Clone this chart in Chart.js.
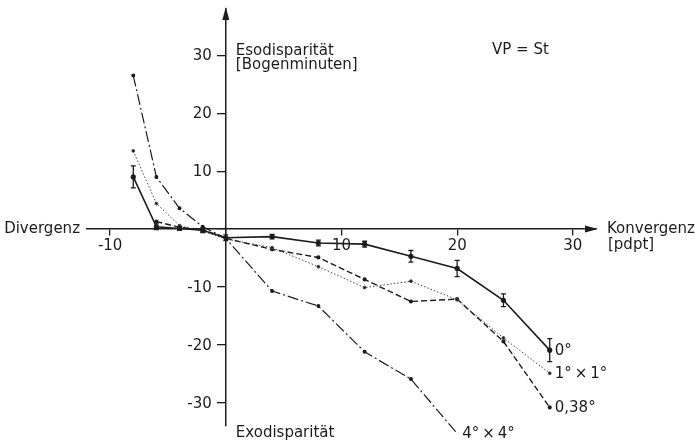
<!DOCTYPE html>
<html>
<head>
<meta charset="utf-8">
<script src="https://cdn.jsdelivr.net/npm/chart.js@4/dist/chart.umd.min.js"></script>
<style>
html, body { margin: 0; padding: 0; background: #fff; }
</style>
</head>
<body>
<canvas id="c" width="695" height="443"></canvas>
<script>
// Konvergenz [pdpt] values where the disparities were measured
const konvergenz = [-8, -6, -4, -2, 0, 4, 8, 12, 16, 20, 24, 28];

// Fixationsdisparität [Bogenminuten] per stimulus size
const sZero       = [9.0, 0.4, 0.1, -0.2, -1.5, -1.3, -2.4, -2.6, -4.7, -6.8, -12.3, -20.9];
const sZeroErr    = [1.9, 0.5, 0.3, 0.4, 0.5, 0.4, 0.5, 0.5, 1.0, 1.4, 1.1, 2.0];
const sOneByOne   = [13.5, 4.4, 0.6, -0.4, -1.7, -3.2, -6.5, -10.1, -9.0, -12.2, -18.8, -24.9];
const sPoint38    = [null, 1.3, 0.3, -0.1, -1.6, -3.5, -4.9, -8.7, -12.5, -12.1, -19.4, -30.8];
const sFourByFour = [26.5, 9.0, 3.6, 0.4, -1.6, -10.7, -13.3, -21.2, -25.9, -35.3, null, null];

const seriesNames = ['0°', '1°\u2009×\u20091°', '0,38°', '4°\u2009×\u20094°'];

const INK = '#1c1c1c';
const FONT = 'DejaVu Sans';
const FSIZE = 15;

const pts = (ys) => konvergenz
    .map((x, i) => ({ x: x, y: ys[i] }))
    .filter(p => p.y !== null);

const line = (label, ys, opts) => Object.assign({
    label: label,
    data: pts(ys),
    borderColor: INK,
    backgroundColor: INK,
    pointRadius: 1.4,
    pointHoverRadius: 0,
    tension: 0,
    clip: false
}, opts);

// error bars, y tick labels, end labels, arrows and axis captions
const extras = {
    id: 'extras',
    afterDatasetsDraw(chart) {
        const { ctx, chartArea, scales: { x, y } } = chart;
        const x0 = x.getPixelForValue(0);
        const y0 = y.getPixelForValue(0);
        ctx.save();
        ctx.strokeStyle = INK;
        ctx.fillStyle = INK;

        // Fehlerbalken der 0°-Kurve
        ctx.lineWidth = 1.3;
        konvergenz.forEach((k, i) => {
            const px = x.getPixelForValue(k);
            const top = y.getPixelForValue(sZero[i] + sZeroErr[i]);
            const bot = y.getPixelForValue(sZero[i] - sZeroErr[i]);
            ctx.beginPath();
            ctx.moveTo(px, top); ctx.lineTo(px, bot);
            ctx.moveTo(px - 2.5, top); ctx.lineTo(px + 2.5, top);
            ctx.moveTo(px - 2.5, bot); ctx.lineTo(px + 2.5, bot);
            ctx.stroke();
        });

        ctx.font = FSIZE + 'px "' + FONT + '"';

        // y-Achsen-Beschriftung links neben der Achse
        ctx.textAlign = 'right';
        ctx.textBaseline = 'middle';
        y.ticks.forEach(t => {
            if (t.value === 0) return;
            ctx.fillText(String(t.value), x0 - 14, y.getPixelForValue(t.value) + 1);
        });

        // Beschriftung am Kurvenende
        ctx.textAlign = 'left';
        chart.data.datasets.forEach((ds, i) => {
            const meta = chart.getDatasetMeta(i);
            const last = meta.data[meta.data.length - 1];
            ctx.fillText(ds.label, last.x + 5, last.y + 1);
        });

        // Pfeilspitzen
        ctx.beginPath();
        ctx.moveTo(x0, chartArea.top - 2);
        ctx.lineTo(x0 - 3.5, chartArea.top + 11);
        ctx.lineTo(x0 + 3.5, chartArea.top + 11);
        ctx.closePath();
        ctx.fill();
        ctx.beginPath();
        ctx.moveTo(chartArea.right + 2, y0);
        ctx.lineTo(chartArea.right - 11, y0 - 3.5);
        ctx.lineTo(chartArea.right - 11, y0 + 3.5);
        ctx.closePath();
        ctx.fill();

        // Achsentitel
        ctx.textBaseline = 'alphabetic';
        ctx.fillText('Esodisparität', x0 + 10, 55);
        ctx.fillText('[Bogenminuten]', x0 + 10, 69);
        ctx.fillText('VP = St', 492, 54);
        ctx.textBaseline = 'middle';
        ctx.fillText('Konvergenz', chartArea.right + 11, y0);
        ctx.fillText('[pdpt]', chartArea.right + 12, y0 + 16);
        ctx.fillText('Exodisparität', x0 + 10, 433);
        ctx.textAlign = 'right';
        ctx.fillText('Divergenz', chartArea.left - 7, y0);
        ctx.restore();
    }
};

new Chart(document.getElementById('c'), {
    type: 'line',
    data: {
        datasets: [
            line(seriesNames[0], sZero, { borderWidth: 1.6, pointRadius: 1.8 }),
            line(seriesNames[1], sOneByOne, { borderWidth: 1, borderDash: [1.5, 2], borderColor: '#444' }),
            line(seriesNames[2], sPoint38, { borderWidth: 1.4, borderDash: [6, 3] }),
            line(seriesNames[3], sFourByFour, { borderWidth: 1.2, borderDash: [11, 3, 2, 3] })
        ]
    },
    options: {
        responsive: false,
        animation: false,
        layout: { padding: { left: 87, right: 99, top: 9, bottom: 17 } },
        plugins: { legend: { display: false }, tooltip: { enabled: false } },
        scales: {
            x: {
                type: 'linear',
                position: { y: 0 },
                min: -12, max: 32,
                border: { display: true, color: INK, width: 1.5 },
                grid: { drawOnChartArea: false, color: INK, tickLength: 6, lineWidth: 1.3 },
                ticks: {
                    stepSize: 10, includeBounds: false, color: INK, padding: 2,
                    maxRotation: 0,
                    font: { family: FONT, size: FSIZE },
                    callback: v => v === 0 ? '' : String(v)
                }
            },
            y: {
                type: 'linear',
                position: { x: 0 },
                min: -34, max: 38,
                border: { display: true, color: INK, width: 1.5 },
                grid: { drawOnChartArea: false, color: INK, tickLength: 8, lineWidth: 1.3 },
                ticks: {
                    stepSize: 10, includeBounds: false, display: false
                }
            }
        }
    },
    plugins: [extras]
});
</script>
</body>
</html>
